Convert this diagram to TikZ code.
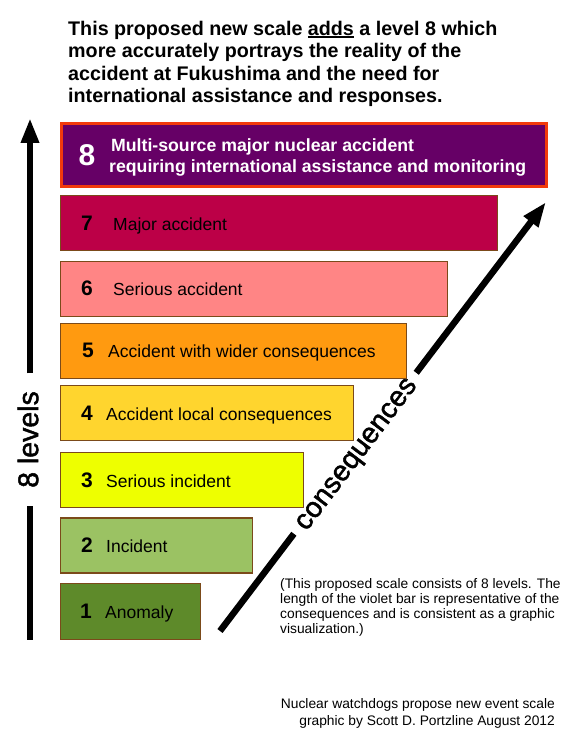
\documentclass[tikz,border=0pt]{standalone}
\usepackage{fontspec}
\setmainfont{Liberation Sans}
\newfontface\axisface{Liberation Sans}[FakeBold=1.6]
\usetikzlibrary{arrows.meta,positioning,calc}

\definecolor{lvl8}{HTML}{660066}
\definecolor{lvl8rim}{HTML}{F23A0C}
\definecolor{lvl7}{HTML}{BC0047}
\definecolor{lvl6}{HTML}{FF8585}
\definecolor{lvl5}{HTML}{FF9A10}
\definecolor{lvl4}{HTML}{FFD52E}
\definecolor{lvl3}{HTML}{EEFF00}
\definecolor{lvl2}{HTML}{9BC263}
\definecolor{lvl1}{HTML}{5E8A2A}
\definecolor{barrim}{HTML}{7B4A1A}

\newcommand{\thickul}[1]{\setbox0\hbox{#1}\rlap{\rule[-3pt]{\wd0}{1.6pt}}#1}

\begin{document}
\begin{tikzpicture}[x=1pt,y=-1pt,
	bar/.style={draw=barrim,line width=1.3pt,anchor=north west,minimum height=55pt,inner sep=0pt},
	levnum/.style={inner sep=0pt,font=\bfseries\fontsize{21}{21}\selectfont},
	levtext/.style={inner sep=0pt,anchor=base west,font=\fontsize{17.5}{17.5}\selectfont},
	bigarrow/.style={line width=6.5pt},
	axistext/.style={inner sep=0pt,font=\axisface\fontsize{28.5}{28.5}\selectfont}]
	\useasboundingbox (0,0) rectangle (575,746);

	% heading
	\node[anchor=north west,align=left,inner sep=0pt,font=\bfseries\fontsize{19.7}{22.5}\selectfont] (title) at (68,20.6)
	{This proposed new scale \thickul{adds} a level 8 which\\more accurately portrays the reality of the\\accident at Fukushima and the need for\\international assistance and responses.};

	% the eight levels
	\node[bar,draw=lvl8rim,line width=3pt,fill=lvl8,minimum width=485pt,minimum height=62pt] (bar8) at (60,122.5) {};
	\node[levnum,text=white,font=\bfseries\fontsize{30}{30}\selectfont] (n8) at ([xshift=27pt]bar8.west) {8};
	\node[right=13.4pt of n8.east,yshift=-2.5pt,inner sep=0pt,align=left,text=white,font=\bfseries\fontsize{17.7}{21}\selectfont] (t8)
	{\hspace{2pt}Multi-source major nuclear accident\\requiring international assistance and monitoring};

	\node[bar,fill=lvl7,minimum width=437pt] (bar7) at (60,195) {};
	\node[levnum] (n7) at ([xshift=27pt]bar7.west) {7};
	\node[right=20pt of n7.base east,levtext] (t7) {Major accident};

	\node[bar,fill=lvl6,minimum width=387pt] (bar6) at (60,260.5) {};
	\node[levnum] (n6) at ([xshift=27pt]bar6.west) {6};
	\node[right=20pt of n6.base east,levtext] (t6) {Serious accident};

	\node[bar,fill=lvl5,minimum width=346pt] (bar5) at (60,322.7) {};
	\node[levnum] (n5) at ([xshift=28pt]bar5.west) {5};
	\node[right=14pt of n5.base east,levtext] (t5) {Accident with wider consequences};

	\node[bar,fill=lvl4,minimum width=293pt] (bar4) at (60,385) {};
	\node[levnum] (n4) at ([xshift=27pt]bar4.west) {4};
	\node[right=13pt of n4.base east,levtext] (t4) {Accident local consequences};

	\node[bar,fill=lvl3,minimum width=243pt] (bar3) at (60,451.7) {};
	\node[levnum] (n3) at ([xshift=27pt]bar3.west) {3};
	\node[right=13pt of n3.base east,levtext] (t3) {Serious incident};

	\node[bar,fill=lvl2,minimum width=191.7pt] (bar2) at (60,517.3) {};
	\node[levnum] (n2) at ([xshift=27pt]bar2.west) {2};
	\node[right=13pt of n2.base east,levtext] (t2) {Incident};

	\node[bar,fill=lvl1,minimum width=140pt,minimum height=56pt] (bar1) at (60,582.7) {};
	\node[levnum] (n1) at ([xshift=26pt]bar1.west) {1};
	\node[right=13pt of n1.base east,levtext] (t1) {Anomaly};

	% axes
	\coordinate (lvlbot) at (30,639.5);
	\coordinate (lvltop) at (30,118);
	\node[axistext,inner xsep=17.5pt,rotate=90] (lvltxt) at (28,439.5) {8 levels};
	\draw[bigarrow] (lvlbot) -- (lvlbot |- lvltxt.west);
	\draw[bigarrow,-{Triangle[length=25pt,width=17pt]}] (lvlbot |- lvltxt.east) -- (lvltop);

	\coordinate (cslo) at (220,631);
	\coordinate (cshi) at (546,202);
	\node[axistext,inner xsep=9pt,anchor=mid,rotate=52.8] (constxt) at (360,457) {consequences};
	\draw[bigarrow] (cslo) -- ($(cslo)!(constxt.west)!(cshi)$);
	\draw[bigarrow,-{Triangle[length=25pt,width=17pt]}] ($(cslo)!(constxt.east)!(cshi)$) -- (cshi);

	% notes
	\node[anchor=north west,align=left,inner sep=0pt,font=\fontsize{13.8}{15.2}\selectfont] (note) at (280,578)
	{(This proposed scale consists of 8 levels. The\\length of the violet bar is representative of the\\consequences and is consistent as a graphic\\visualization.)};
	\node[anchor=north east,align=right,inner sep=0pt,font=\fontsize{13.8}{17}\selectfont] (credit) at (555,698)
	{Nuclear watchdogs propose new event scale\\graphic by Scott D. Portzline August 2012};
\end{tikzpicture}
\end{document}
